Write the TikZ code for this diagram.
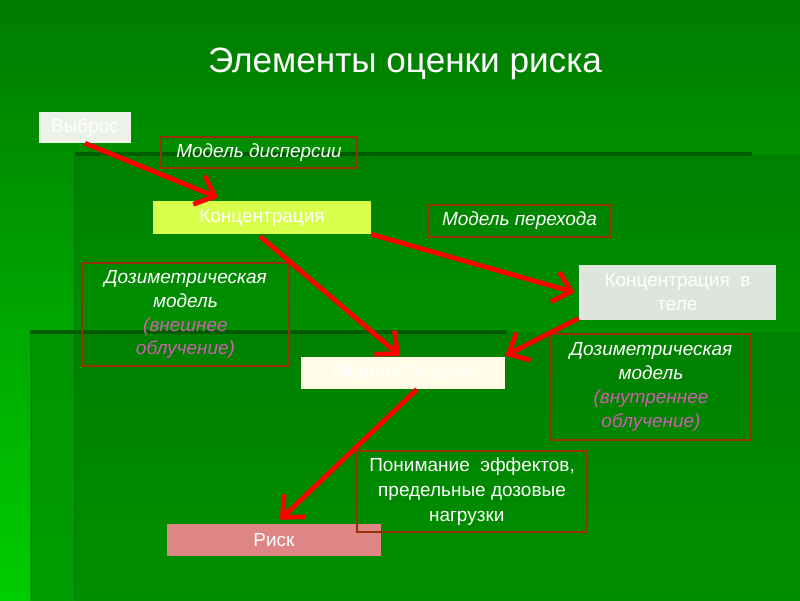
\documentclass[tikz,border=0pt]{standalone}
\usepackage{fontspec}
\setmainfont{Liberation Sans}
\usetikzlibrary{arrows.meta,calc}
\definecolor{bgTop}{RGB}{0,124,0}
\definecolor{bgTopB}{RGB}{0,142,0}
\definecolor{bandTop}{RGB}{0,128,0}
\definecolor{bandBot}{RGB}{0,143,0}
\definecolor{stripTop}{RGB}{0,136,0}
\definecolor{stripBot}{RGB}{0,205,0}
\definecolor{sideTop}{RGB}{0,148,0}
\definecolor{sideBot}{RGB}{0,158,0}
\definecolor{darkline}{RGB}{0,92,0}
\definecolor{edgeline}{RGB}{0,122,14}
\definecolor{frameRed}{RGB}{150,50,10}
\definecolor{pinktext}{RGB}{204,96,170}
\definecolor{fVyb}{RGB}{237,242,232}
\definecolor{fKonc}{RGB}{217,255,77}
\definecolor{fTelo}{RGB}{221,229,221}
\definecolor{fMosh}{RGB}{255,253,232}
\definecolor{fRisk}{RGB}{222,133,133}
\begin{document}
\begin{tikzpicture}[x=0.025cm,y=-0.025cm,
  sz/.style 2 args={minimum width=#1*0.025cm, minimum height=#2*0.025cm},
  fillbox/.style={rectangle, inner sep=0pt, text=white, align=center,
     font=\fontsize{13.5}{17}\selectfont},
  framebox/.style={rectangle, inner sep=0pt, text=white, align=center, draw=frameRed,
     line width=1pt, font=\fontsize{13.5}{17}\selectfont},
  itbox/.style={framebox, font=\fontsize{13.5}{17}\selectfont\itshape},
  redarrow/.style={draw=red, line width=3.4pt, -{Straight Barb[length=12pt,width=22pt,line width=3.4pt]}}
]
\useasboundingbox (0,0) rectangle (800,600);
% background
\shade[top color=bgTop, bottom color=bgTopB] (0,0) rectangle (800,155);
\shade[top color=stripTop, bottom color=stripBot] (0,100) rectangle (75,600);
\shade[top color=bandTop, bottom color=bandBot] (75,155) rectangle (800,332);
\shade[top color=bandTop, bottom color=bandBot] (75,332) rectangle (800,600);
\shade[top color=sideTop, bottom color=sideBot] (30,332) rectangle (75,600);
\draw[edgeline, line width=0.6pt] (74,156) -- (74,600);
\draw[edgeline, line width=0.6pt] (31,334) -- (31,600);
\draw[darkline, line width=2.6pt] (75,154) -- (752,154);
\draw[darkline, line width=2.6pt] (30,332) -- (507,332);
% title
\node[text=white, font=\fontsize{25}{30}\selectfont] (title) at (405,64) {Элементы оценки риска};
% nodes
\node[fillbox, fill=fVyb, sz={92}{31}] (vyb) at (85,127.5) {Выброс};
\node[itbox, sz={196}{31}] (disp) at (259,152.5) {Модель дисперсии};
\node[fillbox, fill=fKonc, sz={218}{33}] (konc) at (262,217.5) {Концентрация};
\node[itbox, sz={181}{32}] (perekh) at (519.5,221) {Модель перехода};
\node[fillbox, fill=fTelo, sz={197}{55}] (telo) at (677.5,292.5) {Концентрация\ \ в\\теле};
\node[itbox, sz={207}{103}] (dozext) at (185.5,314.5) {Дозиметрическая\\модель\\\textcolor{pinktext}{(внешнее}\\\textcolor{pinktext}{облучение)}};
\node[fillbox, fill=fMosh, sz={204}{32}] (mosh) at (403,373) {Мощность дозы};
\node[itbox, sz={200}{106}] (dozint) at (651,387) {Дозиметрическая\\модель\\\textcolor{pinktext}{(внутреннее}\\\textcolor{pinktext}{облучение)}};
\node[fillbox, fill=fRisk, sz={214}{32}] (risk) at (274,540) {Риск};
\node[framebox, sz={230}{81}, font=\fontsize{13.5}{18}\selectfont] (pon) at (472,491.5) {Понимание\ \ эффектов,\\предельные\ дозовые\\нагрузки\ \ \ };
% arrows
\draw[redarrow] (vyb.south) -- ($(konc.north)+(-44,-3)$);
\draw[redarrow] ($(konc.south)+(-2,2)$) -- ($(mosh.north)+(-3,-1)$);
\draw[redarrow] (konc.south east) -- ($(telo.west)+(-4,0)$);
\draw[redarrow] ($(telo.south west)+(0,-2)$) -- ($(mosh.north east)+(0,-1)$);
\draw[redarrow] ($(mosh.south)+(14,0)$) -- ($(risk.north)+(6,-4)$);
\end{tikzpicture}
\end{document}
